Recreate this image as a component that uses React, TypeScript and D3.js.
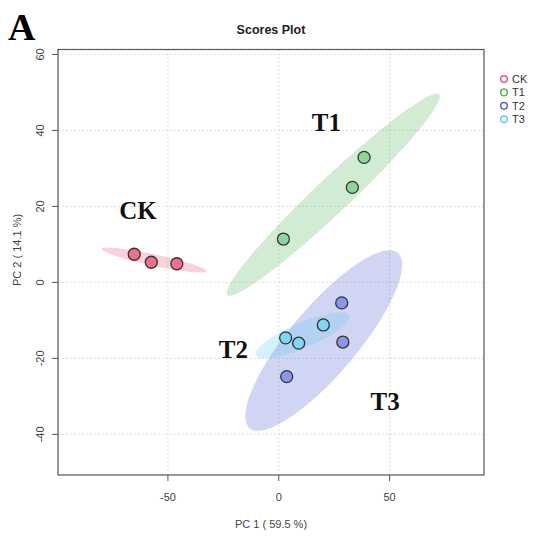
import React from "react";
import * as d3 from "d3";

// PCA scores, 3 replicates per group
const groups = ["CK", "T1", "T2", "T3"];
const pc1Scores = [
  [-65.2, -57.5, -46.0],
  [38.5, 33.2, 2.1],
  [28.4, 28.9, 3.6],
  [20.1, 3.1, 9.0],
];
const pc2Scores = [
  [7.4, 5.3, 4.9],
  [32.9, 25.0, 11.4],
  [-5.4, -15.7, -24.8],
  [-11.2, -14.6, -16.0],
];
const xTicks = [-50, 0, 50];
const yTicks = [-40, -20, 0, 20, 40, 60];
const groupLabels = [
  { text: "CK", x: -63.5, y: 16.8 },
  { text: "T1", x: 21.5, y: 39.8 },
  { text: "T2", x: -20.5, y: -20 },
  { text: "T3", x: 48, y: -33.5 },
];

const legendColors = ["#e9577b", "#55b85a", "#5565d6", "#62cdf2"];
const pointColors = ["#f0708c", "#8fd59a", "#8c96e8", "#7ed6f2"];

const W = 533;
const H = 537;
const box = { left: 58, right: 484, top: 49.5, bottom: 475 };
const font = "'Liberation Sans', Arial, sans-serif";

// 95% normal ellipse, same as car::ellipse with sqrt(qchisq(0.95, 2))
function ellipse(xs: number[], ys: number[]) {
  const n = xs.length;
  const mx = d3.mean(xs)!;
  const my = d3.mean(ys)!;
  let sxx = 0, syy = 0, sxy = 0;
  for (let i = 0; i < n; i++) {
    sxx += (xs[i] - mx) ** 2;
    syy += (ys[i] - my) ** 2;
    sxy += (xs[i] - mx) * (ys[i] - my);
  }
  sxx /= n - 1; syy /= n - 1; sxy /= n - 1;
  const tr = sxx + syy;
  const det = sxx * syy - sxy * sxy;
  const disc = Math.sqrt(Math.max(0, (tr * tr) / 4 - det));
  const l1 = tr / 2 + disc;
  const l2 = Math.max(0, tr / 2 - disc);
  const ang = Math.atan2(l1 - sxx, sxy || 1e-9);
  const r = Math.sqrt(5.991465);
  const pts: [number, number][] = [];
  for (let k = 0; k < 120; k++) {
    const t = (k / 120) * 2 * Math.PI;
    const a = r * Math.sqrt(l1) * Math.cos(t);
    const b = r * Math.sqrt(l2) * Math.sin(t);
    pts.push([mx + a * Math.cos(ang) - b * Math.sin(ang), my + a * Math.sin(ang) + b * Math.cos(ang)]);
  }
  return pts;
}

export default function App() {
  const x = d3.scaleLinear().domain([-99.6, 92.6]).range([box.left, box.right]);
  const y = d3.scaleLinear().domain([-50.7, 61.3]).range([box.bottom, box.top]);
  const line = d3.line<[number, number]>()
    .x((d) => x(d[0]))
    .y((d) => y(d[1]))
    .curve(d3.curveLinearClosed);

  return (
    <svg width={W} height={H} style={{ position: "absolute", left: 0, top: 0, background: "#fff" }} fontFamily={font}>
      <defs>
        <clipPath id="plotClip">
          <rect x={box.left} y={box.top} width={box.right - box.left} height={box.bottom - box.top} />
        </clipPath>
      </defs>

      <text x={8} y={40} fontFamily="'Liberation Serif', 'Times New Roman', serif" fontWeight="bold" fontSize={38}>A</text>
      <text x={271} y={34} textAnchor="middle" fontWeight="bold" fontSize={12.5} fill="#222">Scores Plot</text>

      {/* grid */}
      {xTicks.map((t) => (
        <line key={"gx" + t} x1={x(t)} x2={x(t)} y1={box.top} y2={box.bottom} stroke="#d3d3d3" strokeDasharray="1.5,2.5" />
      ))}
      {yTicks.map((t) => (
        <line key={"gy" + t} x1={box.left} x2={box.right} y1={y(t)} y2={y(t)} stroke="#d3d3d3" strokeDasharray="1.5,2.5" />
      ))}

      {/* ellipses */}
      <g clipPath="url(#plotClip)">
        {groups.map((g, i) => (
          <path key={"e" + g} d={line(ellipse(pc1Scores[i], pc2Scores[i])) || ""} fill={legendColors[i]} fillOpacity={0.27} stroke="none" />
        ))}
      </g>

      {/* points */}
      {groups.map((g, i) =>
        pc1Scores[i].map((v, j) => (
          <circle key={g + j} cx={x(v)} cy={y(pc2Scores[i][j])} r={6} fill={pointColors[i]} stroke="#333" strokeWidth={1.3} />
        ))
      )}

      {/* group labels */}
      {groupLabels.map((l) => (
        <text key={"l" + l.text} x={x(l.x)} y={y(l.y)} textAnchor="middle" fontFamily="'Liberation Serif', 'Times New Roman', serif" fontWeight="bold" fontSize={25} fill="#111">
          {l.text}
        </text>
      ))}

      {/* box */}
      <rect x={box.left} y={box.top} width={box.right - box.left} height={box.bottom - box.top} fill="none" stroke="#555" strokeWidth={1.2} />

      {/* x axis */}
      {xTicks.map((t) => (
        <g key={"xt" + t}>
          <line x1={x(t)} x2={x(t)} y1={box.bottom} y2={box.bottom + 6} stroke="#555" />
          <text x={x(t)} y={box.bottom + 26} textAnchor="middle" fontSize={11} fill="#444">{t}</text>
        </g>
      ))}
      <text x={(box.left + box.right) / 2} y={528} textAnchor="middle" fontSize={11} fill="#444">PC 1 ( 59.5 %)</text>

      {/* y axis */}
      {yTicks.map((t) => (
        <g key={"yt" + t}>
          <line x1={box.left - 6} x2={box.left} y1={y(t)} y2={y(t)} stroke="#555" />
          <text transform={`translate(${box.left - 14},${y(t)}) rotate(-90)`} textAnchor="middle" fontSize={11} fill="#444">{t}</text>
        </g>
      ))}
      <text transform={`translate(21,250) rotate(-90)`} textAnchor="middle" fontSize={11} fill="#444">PC 2 ( 14.1 %)</text>

      {/* legend */}
      {groups.map((g, i) => (
        <g key={"lg" + g} transform={`translate(504,${79 + i * 13.4})`}>
          <circle cx={0} cy={0} r={3.3} fill="none" stroke={legendColors[i]} strokeWidth={1.5} />
          <text x={8} y={4} fontSize={11} fill="#333">{g}</text>
        </g>
      ))}
    </svg>
  );
}
